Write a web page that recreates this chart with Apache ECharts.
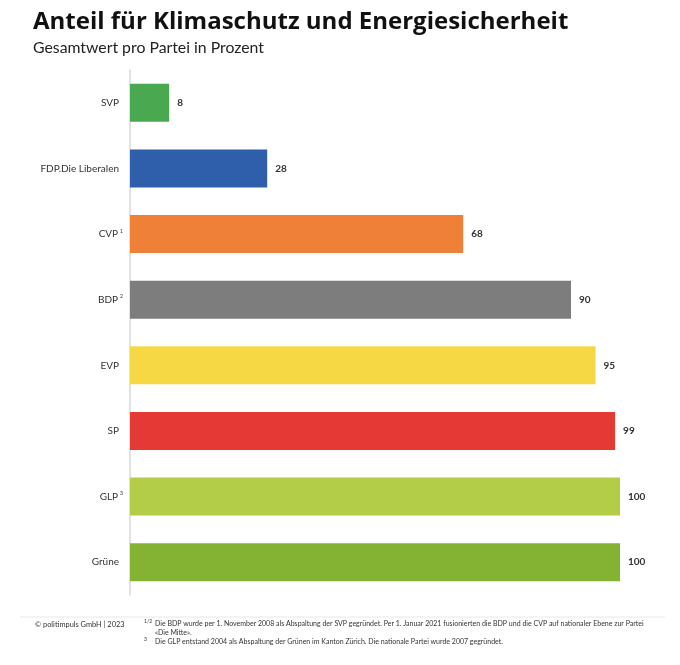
<!DOCTYPE html>
<html><head><meta charset="utf-8">
<script src="https://cdn.jsdelivr.net/npm/echarts@6/dist/echarts.min.js"></script>
<style>html,body{margin:0;padding:0;background:#fff}#c{width:680px;height:665px}</style>
</head><body><div id="c"></div>
<script>
const categories = ['SVP', 'FDP.Die Liberalen', 'CVP', 'BDP', 'EVP', 'SP', 'GLP', 'Grüne'];
const superscripts = ['', '', '1', '2', '', '', '3', ''];
const values = [8, 28, 68, 90, 95, 99, 100, 100];
const colors = ['#4aa850', '#2f5fab', '#ee8137', '#7d7d7d', '#f6d844', '#e53935', '#b4cd49', '#84b232'];
const title = 'Anteil für Klimaschutz und Energiesicherheit';
const subtitle = 'Gesamtwert pro Partei in Prozent';
const source = '© politimpuls GmbH | 2023';
const footnotes = [
  ['1/2', 'Die BDP wurde per 1. November 2008 als Abspaltung der SVP gegründet. Per 1. Januar 2021 fusionierten die BDP und die CVP auf nationaler Ebene zur Partei'],
  ['', '«Die Mitte».'],
  ['3', 'Die GLP entstand 2004 als Abspaltung der Grünen im Kanton Zürich. Die nationale Partei wurde 2007 gegründet.']
];

const chart = echarts.init(document.getElementById('c'), null, {renderer: 'canvas'});
const FONT = 'Lato';
const footY = [625, 634, 643];
const graphics = [
  {type: 'line', shape: {x1: 20, y1: 617, x2: 665, y2: 617}, style: {stroke: '#e8e8e8', lineWidth: 1}},
  {type: 'text', left: 35, top: 621, style: {text: source, font: '7.4px ' + FONT, fill: '#333'}}
];
footnotes.forEach((f, i) => {
  if (f[0]) graphics.push({type: 'text', left: 144, top: footY[i] - 6, style: {text: f[0], font: '5px ' + FONT, fill: '#333'}});
  graphics.push({type: 'text', left: 155, top: footY[i] - 4.5, style: {text: f[1], font: '7px ' + FONT, fill: '#333'}});
});

chart.setOption({
  animation: false,
  title: [
    {text: title, left: 28, top: 5, textStyle: {fontFamily: 'Open Sans', fontWeight: 'bold', fontSize: 24, color: '#111'}},
    {text: subtitle, left: 28, top: 35, textStyle: {fontFamily: FONT, fontWeight: 'normal', fontSize: 15.8, color: '#222'}}
  ],
  grid: {left: 130, right: 60, top: 70, height: 525},
  xAxis: {type: 'value', min: 0, max: 100, show: false},
  yAxis: {
    type: 'category', inverse: true, data: categories,
    axisLine: {show: true, lineStyle: {color: '#d9d9d9', width: 1.5}},
    axisTick: {show: false},
    axisLabel: {
      margin: 7,
      formatter: (v, i) => superscripts[i] ? v + '{s|' + superscripts[i] + '}' : v + '{p| }',
      fontFamily: FONT, fontSize: 10, color: '#333',
      rich: {s: {fontSize: 5, verticalAlign: 'top', padding: [0, 0, 6, 2], color: '#333', fontFamily: FONT}, p: {fontSize: 5, width: 4}}
    }
  },
  series: [{
    type: 'bar', barWidth: 38,
    data: values.map((v, i) => ({value: v, itemStyle: {color: colors[i]}})),
    label: {show: true, position: 'right', distance: 8, fontFamily: FONT, fontSize: 10, fontWeight: 'bold', color: '#333'}
  }],
  graphic: graphics
});
</script></body></html>
